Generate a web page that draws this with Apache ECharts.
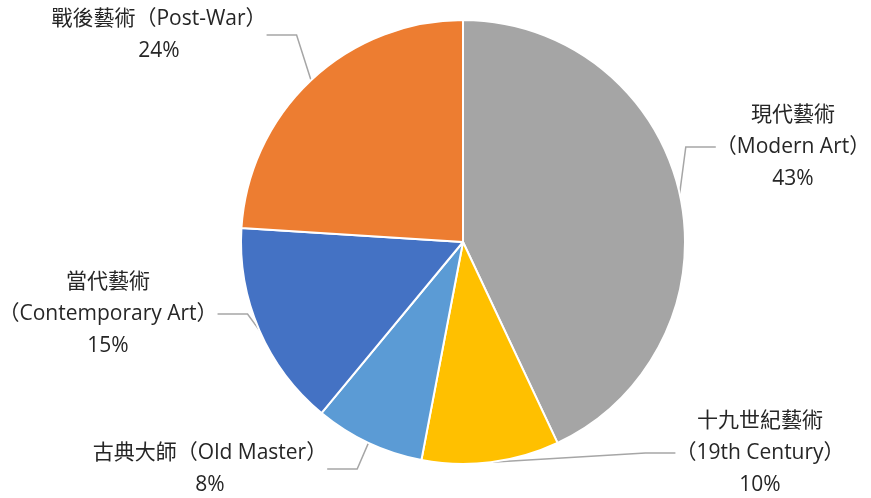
<!DOCTYPE html>
<html>
<head>
<meta charset="utf-8">
<script src="https://cdn.jsdelivr.net/npm/echarts@6/dist/echarts.min.js"></script>
<style>
  html, body { margin: 0; padding: 0; background: #fff; }
  #chart { width: 871px; height: 498px; }
</style>
</head>
<body>
<div id="chart"></div>
<script>
// Art market segments, clockwise from 12 o'clock
const categories = [
  '現代藝術\n（Modern Art）',
  '十九世紀藝術\n（19th Century）',
  '古典大師（Old Master）',
  '當代藝術\n（Contemporary Art）',
  '戰後藝術（Post-War）'
];
const shares = [43, 10, 8, 15, 24];
const colors = ['#A5A5A5', '#FFC000', '#5B9BD5', '#4472C4', '#ED7D31'];

// Where each label block sits (centre x, centre y)
const labelSpots = [
  [793, 147],
  [760, 453],
  [210, 469],
  [108, 314],
  [159, 35]
];

const chart = echarts.init(document.getElementById('chart'), null, { renderer: 'canvas' });

chart.setOption({
  animation: false,
  backgroundColor: '#ffffff',
  series: [{
    type: 'pie',
    center: [463, 242],
    radius: 222,
    startAngle: 90,
    clockwise: true,
    data: categories.map((name, i) => ({
      name: name,
      value: shares[i],
      itemStyle: { color: colors[i] }
    })),
    itemStyle: { borderColor: '#ffffff', borderWidth: 2 },
    label: {
      show: true,
      position: 'outside',
      alignTo: 'none',
      overflow: 'none',
      formatter: '{b}\n{d}%',
      fontFamily: '"Open Sans", "Noto Sans CJK TC", sans-serif',
      fontSize: 21,
      lineHeight: 32,
      color: '#262626',
      align: 'center'
    },
    labelLine: {
      show: true,
      lineStyle: { color: '#A6A6A6', width: 1.5 }
    },
    labelLayout: function (params) {
      const p = labelSpots[params.dataIndex];
      return { x: p[0], y: p[1], align: 'center', verticalAlign: 'middle' };
    }
  }]
});
</script>
</body>
</html>
